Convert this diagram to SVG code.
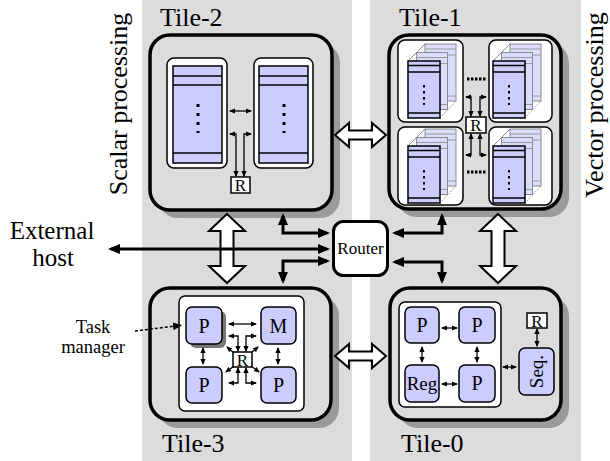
<svg xmlns="http://www.w3.org/2000/svg" width="610" height="461" viewBox="0 0 610 461">
<style>
text{font-family:"Liberation Serif","Times New Roman",serif;fill:#000}
.col{fill:#dcdcdc}
.tile{fill:#dcdcdc;stroke:#000;stroke-width:3.5}
.shadow{fill:#9a9a9a}
.wbox{fill:#fff;stroke:#000;stroke-width:1.5}
.pu{fill:#ccccff;stroke:#000;stroke-width:1.5}
.pl{fill:#dcdcff;stroke:#8a8a8a;stroke-width:1}
.band{stroke:#000;stroke-width:1.3;fill:none}
.gband{stroke:#9a9a9a;stroke-width:1;fill:none}
.thick{fill:none;stroke:#000;stroke-width:3;marker-start:url(#ah);marker-end:url(#ah)}
.thin{fill:none;stroke:#000;stroke-width:1.3;marker-start:url(#as);marker-end:url(#as)}
.thin1{fill:none;stroke:#000;stroke-width:1.3;marker-end:url(#as)}
.hollow{fill:#fff;stroke:#000;stroke-width:2;stroke-linejoin:miter}
.rbox{fill:#fff;stroke:#000;stroke-width:1.5}
.dots{stroke:#000;stroke-width:3;stroke-dasharray:2.5 1.5;fill:none}
.big{font-size:26px}
.lab{font-size:20px;text-anchor:middle}
.rl{font-size:17px;text-anchor:middle}
</style>
<defs>
<marker id="ah" viewBox="0 0 12 10" refX="9" refY="5" markerWidth="12" markerHeight="10" markerUnits="userSpaceOnUse" orient="auto-start-reverse"><path d="M0,0 L12,5 L0,10 z"/></marker>
<marker id="as" viewBox="0 0 6 6" refX="5" refY="3" markerWidth="6" markerHeight="6" markerUnits="userSpaceOnUse" orient="auto-start-reverse"><path d="M0,0.4 L6,3 L0,5.6 z"/></marker>
<marker id="am" viewBox="0 0 9 8" refX="8" refY="4" markerWidth="9" markerHeight="8" markerUnits="userSpaceOnUse" orient="auto"><path d="M0,0 L9,4 L0,8 z"/></marker>
<g id="stk">
<rect class="pl" x="17" y="-17" width="31" height="57"/>
<path class="gband" d="M17,-12 H48 M17,-6 H48 M17,35 H48"/>
<rect class="pl" x="8.5" y="-8.5" width="31" height="57"/>
<path class="gband" d="M8.5,-3.5 H39.5 M8.5,2.5 H39.5 M8.5,43.5 H39.5"/>
<path d="M0,0 L17,-17" stroke="#8a8a8a" stroke-width="1" fill="none"/>
<path d="M32,57 L48,40" stroke="#8a8a8a" stroke-width="1" stroke-dasharray="1.5 1.5" fill="none"/>
<rect class="pu" x="0" y="0" width="32" height="57"/>
<path class="band" d="M0,4.5 H32 M0,11 H32 M0,52 H32"/>
<path d="M16,24 V44" stroke="#000" stroke-width="2" stroke-dasharray="2.4 3.6" fill="none"/>
</g>
<g id="reg">
<rect class="pu" x="0" y="0" width="49" height="97"/>
<path class="band" d="M0,10 H49 M0,19 H49 M0,87 H49"/>
<path d="M25,38 V67" stroke="#000" stroke-width="3" stroke-dasharray="3 6" fill="none"/>
</g>
</defs>

<rect class="col" x="142" y="0" width="210" height="461"/>
<rect class="col" x="370" y="0" width="211" height="461"/>

<text class="big" transform="translate(127,104) rotate(-90)" text-anchor="middle">Scalar processing</text>
<text class="big" transform="translate(603,105) rotate(-90)" text-anchor="middle">Vector processing</text>

<g id="external-host">
<text x="52" y="239" font-size="25" text-anchor="middle">External</text>
<text x="53" y="266" font-size="25" text-anchor="middle">host</text>
</g>

<g id="task-manager">
<text x="93" y="333" font-size="18.5" text-anchor="middle">Task</text>
<text x="93" y="353" font-size="18.5" text-anchor="middle">manager</text>
</g>

<g id="tile-2">
<text class="big" x="160" y="26">Tile-2</text>
<rect class="shadow" x="158" y="43" width="182" height="175" rx="20"/>
<rect class="tile" x="150" y="35" width="182" height="175" rx="20"/>
<rect class="wbox" x="167" y="58" width="60" height="110" rx="7"/>
<rect class="wbox" x="254" y="58" width="59" height="110" rx="7"/>
<use href="#reg" x="173" y="66"/>
<use href="#reg" x="259" y="66"/>
<rect class="rbox" x="231" y="177" width="19" height="16"/>
<text class="rl" x="240.5" y="191">R</text>
</g>

<g id="tile-1">
<text class="big" x="399" y="26">Tile-1</text>
<rect class="shadow" x="397" y="43" width="172" height="174" rx="20"/>
<rect class="tile" x="389" y="35" width="172" height="174" rx="20"/>
<rect class="wbox" x="398" y="40" width="65" height="82" rx="7"/>
<rect class="wbox" x="489" y="40" width="63" height="82" rx="7"/>
<rect class="wbox" x="398" y="127" width="65" height="78" rx="7"/>
<rect class="wbox" x="489" y="127" width="63" height="78" rx="7"/>
<use href="#stk" x="408" y="61"/>
<use href="#stk" x="493" y="61"/>
<use href="#stk" x="408" y="146"/>
<use href="#stk" x="493" y="146"/>
<path class="dots" d="M467,79 H486 M467,172 H486"/>
<rect class="rbox" x="466" y="117" width="20" height="16"/>
<text class="rl" x="476" y="131">R</text>
</g>

<g id="tile-3">
<text class="big" x="162" y="452">Tile-3</text>
<rect class="shadow" x="158" y="296" width="181" height="132" rx="20"/>
<rect class="tile" x="150" y="288" width="181" height="132" rx="20"/>
<rect class="wbox" x="179" y="296" width="125" height="115" rx="6"/>
<rect x="190" y="311" width="36" height="37" rx="6" fill="#777"/>
<rect class="pu" x="186" y="307" width="36" height="37" rx="6"/>
<text class="lab" x="204" y="333">P</text>
<rect class="pu" x="261" y="307" width="35" height="37" rx="6"/>
<text class="lab" x="278.5" y="333">M</text>
<rect class="pu" x="186" y="367" width="36" height="36" rx="6"/>
<text class="lab" x="204" y="392">P</text>
<rect class="pu" x="261" y="367" width="35" height="36" rx="6"/>
<text class="lab" x="278.5" y="392">P</text>
<rect class="rbox" x="233" y="352" width="19" height="15"/>
<text class="rl" x="242.5" y="365.5">R</text>
</g>

<g id="tile-0">
<text class="big" x="401" y="452">Tile-0</text>
<rect class="shadow" x="398" y="296" width="171" height="132" rx="20"/>
<rect class="tile" x="390" y="288" width="171" height="132" rx="20"/>
<rect class="wbox" x="399" y="302" width="102" height="105" rx="6"/>
<rect class="pu" x="405" y="307" width="34" height="36" rx="6"/>
<text class="lab" x="422" y="332">P</text>
<rect class="pu" x="459" y="307" width="36" height="36" rx="6"/>
<text class="lab" x="477" y="332">P</text>
<rect class="pu" x="405" y="365" width="34" height="37" rx="6"/>
<text x="422" y="390" font-size="19" text-anchor="middle">Reg</text>
<rect class="pu" x="459" y="365" width="36" height="37" rx="6"/>
<text class="lab" x="477" y="390">P</text>
<rect class="pu" x="519" y="348" width="35" height="47" rx="6"/>
<text transform="translate(543,371.5) rotate(-90)" font-size="19" text-anchor="middle">Seq.</text>
<rect class="rbox" x="527" y="313" width="20" height="15"/>
<text class="rl" x="537" y="326.5">R</text>
</g>

<g id="router">
<rect x="333.5" y="221.5" width="54" height="54" rx="10" fill="#fff" stroke="#000" stroke-width="3"/>
<text x="360.5" y="254" font-size="17" text-anchor="middle">Router</text>
</g>

<g id="connectors">
<polygon class="hollow" points="335,135 349,123 349,130.5 372,130.5 372,123 386,135 372,147 372,139.5 349,139.5 349,147"/>
<polygon class="hollow" points="335,356 349,344 349,351.5 372,351.5 372,344 386,356 372,368 372,360.5 349,360.5 349,368"/>
<polygon class="hollow" points="227,214 245,231 233.5,231 233.5,266 245,266 227,283 209,266 220.5,266 220.5,231 209,231"/>
<polygon class="hollow" points="498,214 516,231 504.5,231 504.5,266 516,266 498,283 480,266 491.5,266 491.5,231 480,231"/>
<path class="thick" d="M111,249 H327"/>
<path class="thick" d="M283,216 V233 H327"/>
<path class="thick" d="M327,261 H283 V281"/>
<path class="thick" d="M395,233 H442 V216"/>
<path class="thick" d="M395,262 H442 V281"/>
<path d="M135,331 L181,325.3" fill="none" stroke="#000" stroke-width="1.5" stroke-dasharray="3 2" marker-end="url(#am)"/>
<path class="thin" d="M230,111 H251"/>
<path class="thin" d="M230,134 H236 V176"/>
<path class="thin" d="M251,134 H244 V176"/>
<path class="thin" d="M466,97 H471 V116"/>
<path class="thin" d="M486,97 H480 V116"/>
<path class="thin" d="M466,155 H471 V134"/>
<path class="thin" d="M486,155 H480 V134"/>
<path class="thin" d="M229,324 H256"/>
<path class="thin" d="M203,348 V364"/>
<path class="thin" d="M278,348 V364"/>
<path class="thin" d="M229,336 H238 V351"/>
<path class="thin" d="M256,336 H246 V351"/>
<path class="thin" d="M229,383 H238 V368"/>
<path class="thin" d="M256,383 H246 V368"/>
<path class="thin1" d="M234,353 L227,347"/>
<path class="thin1" d="M234,366 L226,372"/>
<path class="thin1" d="M251,353 L258,347"/>
<path class="thin1" d="M251,366 L259,372"/>
<path class="thin" d="M442,328 H457"/>
<path class="thin" d="M422,347 V362"/>
<path class="thin" d="M477,347 V362"/>
<path class="thin" d="M442,384 H457"/>
<path class="thin" d="M503,367 H516"/>
<path class="thin" d="M537,329 V346"/>
</g>
</svg>
